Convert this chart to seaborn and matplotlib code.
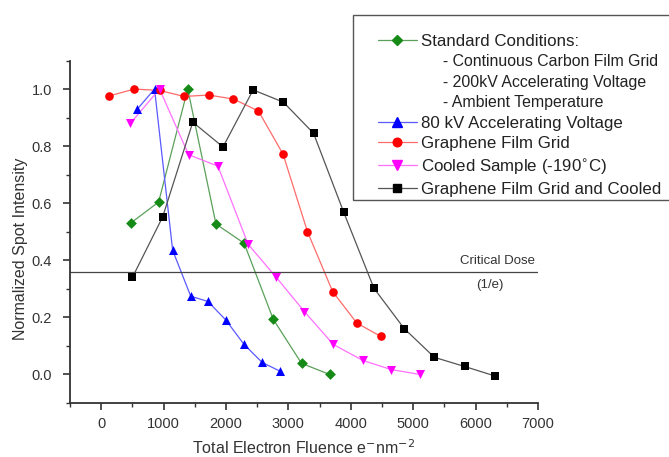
import matplotlib
matplotlib.use("Agg")
import matplotlib.pyplot as plt
import seaborn as sns
import pandas as pd
from matplotlib.lines import Line2D
from matplotlib.patches import Rectangle

sns.set_theme(style="ticks")
plt.rcParams['font.family'] = ['Liberation Sans', 'DejaVu Sans']

# Data
std_x = [470, 920, 1387, 1839, 2290, 2758, 3210, 3661]
std_y = [0.53, 0.604, 1.0, 0.527, 0.46, 0.193, 0.039, 0.0]

kv80_x = [580, 855, 1145, 1435, 1710, 2000, 2290, 2580, 2870]
kv80_y = [0.93, 1.0, 0.435, 0.274, 0.256, 0.19, 0.105, 0.042, 0.011]

gfg_x = [130, 532, 935, 1330, 1720, 2120, 2520, 2914, 3306, 3710, 4097, 4484]
gfg_y = [0.976, 1.0, 0.995, 0.974, 0.979, 0.965, 0.923, 0.772, 0.5, 0.29, 0.18, 0.133]

cool_x = [468, 935, 1400, 1870, 2355, 2806, 3258, 3720, 4194, 4650, 5110]
cool_y = [0.88, 1.0, 0.77, 0.73, 0.456, 0.34, 0.22, 0.105, 0.049, 0.017, 0.0]

both_x = [500, 985, 1468, 1952, 2435, 2920, 3403, 3887, 4371, 4855, 5339, 5823, 6306]
both_y = [0.34, 0.552, 0.884, 0.797, 0.997, 0.954, 0.845, 0.568, 0.302, 0.161, 0.06, 0.028, -0.005]

critical_dose = 0.36

series = [
    ("Standard Conditions:", std_x, std_y, "D", "#168a16", "#5aa05a", 5.5),
    ("80 kV Accelerating Voltage", kv80_x, kv80_y, "^", "#0000ff", "#5a5aff", 6.5),
    ("Graphene Film Grid", gfg_x, gfg_y, "o", "#ff0000", "#ff6a6a", 6.2),
    ("Cooled Sample (-190$^{\\circ}$C)", cool_x, cool_y, "v", "#ff00ff", "#ff70ff", 6.5),
    ("Graphene Film Grid and Cooled", both_x, both_y, "s", "#000000", "#555555", 5.5),
]

W, H = 669, 457
fig = plt.figure(figsize=(W / 100, H / 100), dpi=100)
ax = fig.add_axes([70/W, 1-403/H, (538-70)/W, (403-60.5)/H])

handles = []
labels = []
for name, xs, ys, mk, mc, lc, ms in series:
    df = pd.DataFrame({"x": xs, "y": ys})
    sns.lineplot(data=df, x="x", y="y", ax=ax, color=lc, linewidth=0.9,
                 sort=False, estimator=None, legend=False)
    sns.scatterplot(data=df, x="x", y="y", ax=ax, color=mc, marker=mk,
                    s=ms**2, linewidth=0, legend=False, zorder=3)
    h = Line2D([], [], color=lc, linewidth=0.9, marker=mk, markersize=ms,
               markerfacecolor=mc, markeredgecolor=mc)
    handles.append(h)
    labels.append(name)
    if name.startswith("Standard"):
        for sub in ["     - Continuous Carbon Film Grid",
                    "     - 200kV Accelerating Voltage",
                    "     - Ambient Temperature"]:
            handles.append(Line2D([], [], color="none"))
            labels.append(sub)

ax.axhline(critical_dose, color="#444444", linewidth=0.9, xmin=0, xmax=1)
ax.text(6950, critical_dose + 0.015, "Critical Dose", ha="right", va="bottom",
        fontsize=9.5, color="#333333")
ax.text(6230, critical_dose - 0.025, "(1/e)", ha="center", va="top",
        fontsize=9.5, color="#333333")

ax.set_xlim(-500, 7000)
ax.set_ylim(-0.1, 1.1)
ax.set_xticks([0, 1000, 2000, 3000, 4000, 5000, 6000, 7000])
ax.set_xticks(list(range(-500, 7001, 500)), minor=True)
ax.set_yticks([0.0, 0.2, 0.4, 0.6, 0.8, 1.0])
ax.set_yticks([-0.1 + 0.1 * i for i in range(13)], minor=True)
ax.set_yticklabels(["0.0", "0.2", "0.4", "0.6", "0.8", "1.0"])
ax.tick_params(axis="x", which="major", pad=5)
ax.tick_params(axis="y", which="major", pad=8)
ax.tick_params(axis="both", which="major", direction="out", length=5, width=1.2,
               labelsize=10.5, colors="#333333")
ax.tick_params(axis="both", which="minor", direction="out", length=3, width=1.0,
               colors="#333333")
for sp in ["top", "right"]:
    ax.spines[sp].set_visible(False)
for sp in ["left", "bottom"]:
    ax.spines[sp].set_linewidth(1.3)
    ax.spines[sp].set_color("#333333")

ax.set_xlabel("Total Electron Fluence e$^{-}$nm$^{-2}$", fontsize=11.5, color="#333333")
ax.xaxis.set_label_coords(0.5, -0.102)
ax.set_ylabel("Normalized Spot Intensity", fontsize=11.5, color="#333333")
ax.yaxis.set_label_coords(-0.09, 0.45)

leg = fig.legend(handles, labels, loc="upper left",
                 bbox_to_anchor=(378/W, 1 - 34/H), fontsize=12.2,
                 frameon=False, handlelength=2.3,
                 handletextpad=0.25, labelspacing=0.32, borderpad=0,
                 borderaxespad=0)
texts = leg.get_texts()
for t in texts:
    t.set_color("#222222")
for t in texts[1:4]:
    t.set_fontsize(11.4)
fig.patches.append(Rectangle((353/W, 1 - 200/H), (700 - 353)/W, (200 - 15)/H,
                             transform=fig.transFigure, fill=False,
                             edgecolor="#555555", linewidth=1.0))

fig.savefig("out.png", dpi=100)
